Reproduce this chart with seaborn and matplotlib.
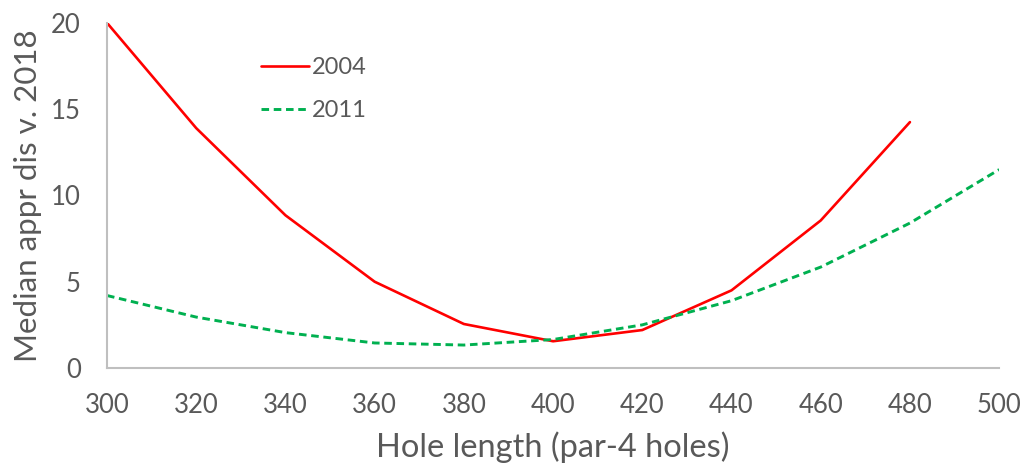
import pandas as pd
import seaborn as sns
import matplotlib.pyplot as plt
import numpy as np

# hole length (yards) and median approach distance change vs 2018
hole_length = [300, 320, 340, 360, 380, 400, 420, 440, 460, 480, 500]
y2004 = [20.0, 13.9, 8.85, 5.0, 2.55, 1.55, 2.2, 4.5, 8.55, 14.25, np.nan]
y2011 = [4.2, 2.95, 2.05, 1.45, 1.33, 1.65, 2.5, 3.9, 5.85, 8.4, 11.5]

df = pd.DataFrame({'Hole length': hole_length, '2004': y2004, '2011': y2011})

sns.set_style('white')
plt.rcParams['font.family'] = ['Lato', 'DejaVu Sans']
grey_text = '#595959'
grey_line = '#BFBFBF'

fig = plt.figure(figsize=(10.29, 4.67), dpi=100)
ax = fig.add_axes([0.104, 0.212, 0.867, 0.739])

sns.lineplot(data=df, x='Hole length', y='2004', color='#FF0000', linewidth=1.9, label='2004', ax=ax)
sns.lineplot(data=df, x='Hole length', y='2011', color='#00B050', linewidth=2.1, label='2011', ax=ax)
ax.lines[1].set_dashes((2.6, 1.6))

ax.set_xlim(300, 500)
ax.set_ylim(0, 20)
ax.set_xticks(range(300, 501, 20))
ax.set_yticks([0, 5, 10, 15, 20])

for s in ['top', 'right']:
    ax.spines[s].set_visible(False)
for s in ['left', 'bottom']:
    ax.spines[s].set_color(grey_line)
    ax.spines[s].set_linewidth(1.5)

ax.tick_params(axis='x', direction='in', length=7, width=1.2, color=grey_line,
               labelsize=18.5, labelcolor=grey_text, pad=18)
ax.tick_params(axis='y', direction='in', length=5.5, width=1.2, color=grey_line,
               labelsize=18.5, labelcolor=grey_text, pad=19)

ax.set_xlabel('Hole length (par-4 holes)', fontsize=23.5, color=grey_text, labelpad=10)
ax.set_ylabel('Median appr dis v. 2018', fontsize=22.5, color=grey_text, labelpad=6)

leg = ax.legend(loc='upper left', bbox_to_anchor=(0.254, 0.878), bbox_transform=fig.transFigure,
                frameon=False, fontsize=17, handlelength=2.0, handletextpad=0.12,
                labelspacing=0.95, borderpad=0, borderaxespad=0)
for t in leg.get_texts():
    t.set_color(grey_text)

plt.savefig('out.png', dpi=100)
